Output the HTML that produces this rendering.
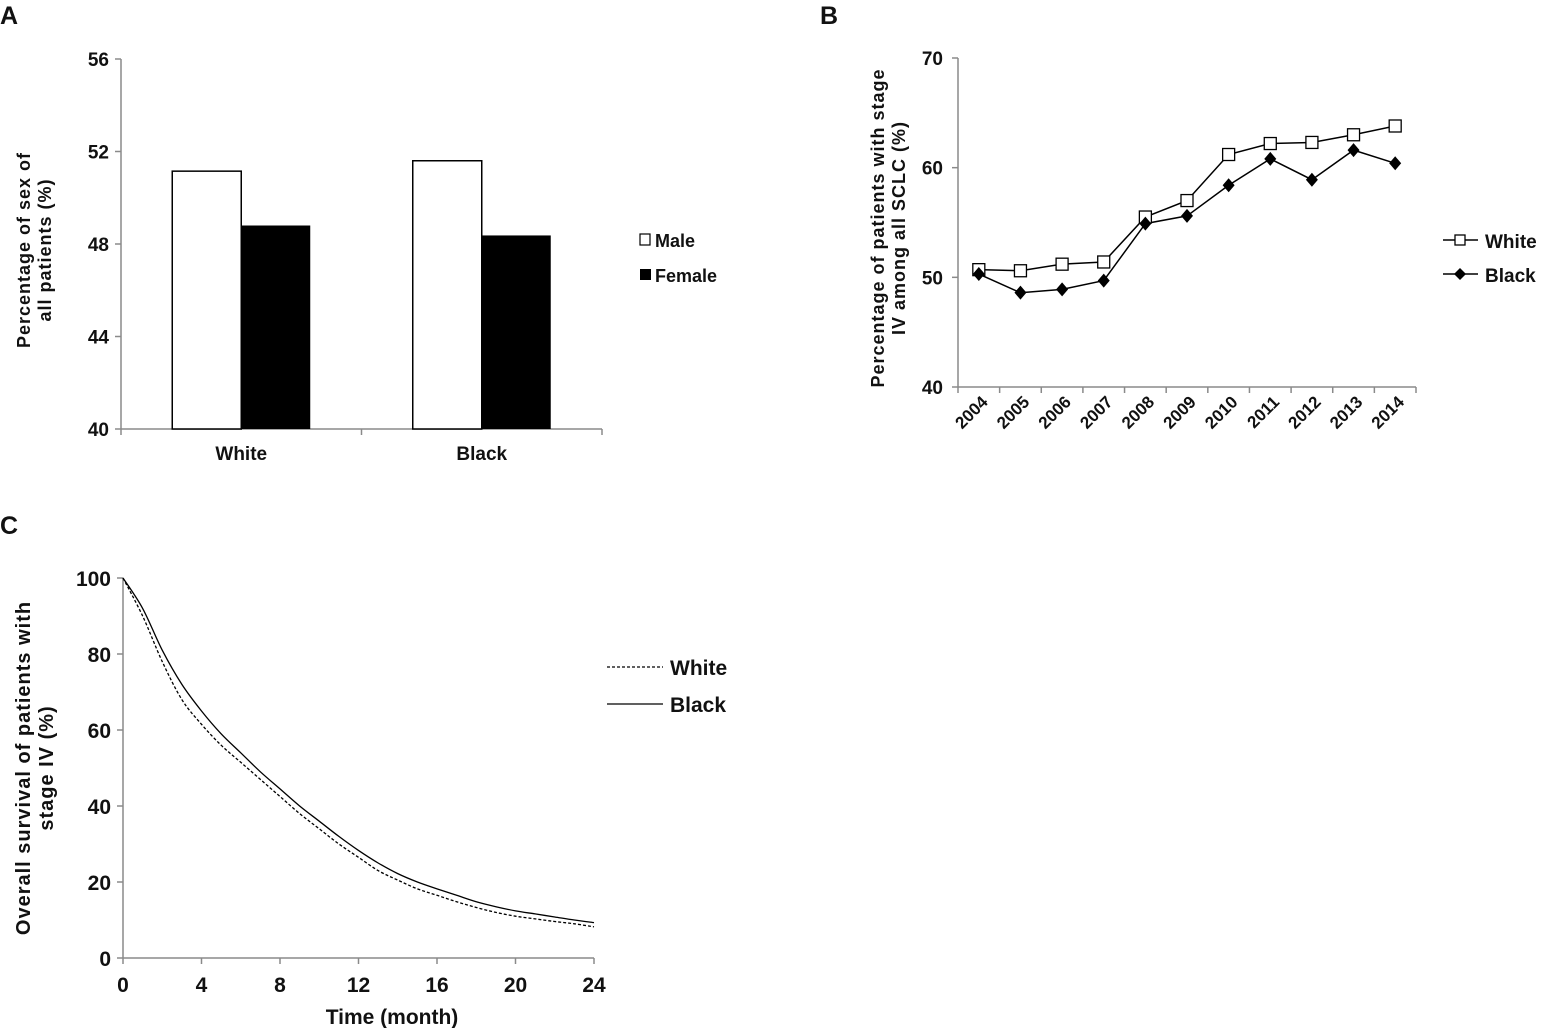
<!DOCTYPE html>
<html><head><meta charset="utf-8"><style>
html,body{margin:0;padding:0;background:#fff;}
svg{display:block;}
text{font-family:"Liberation Sans Narrow","Liberation Sans",sans-serif;font-weight:bold;fill:#111;}
.title{font-family:"Liberation Sans",sans-serif;letter-spacing:1px;}
</style></head><body>
<svg id="fig" width="1549" height="1028" viewBox="0 0 1549 1028" xmlns="http://www.w3.org/2000/svg">
<text x="0" y="24" font-size="25" class="title">A</text>
<text x="820" y="24" font-size="25" class="title">B</text>
<text x="0" y="534" font-size="25" class="title">C</text>
<g id="pa"></g>
<g id="pb"></g>
<g id="pc"></g>
</svg>
<script>
// Panel A data
const aCategories = ["White", "Black"];
const aMale = [51.15, 51.6];
const aFemale = [48.8, 48.37];
const aTicks = [40, 44, 48, 52, 56];
// Panel B data
const bYears = ["2004","2005","2006","2007","2008","2009","2010","2011","2012","2013","2014"];
const bWhite = [50.7, 50.6, 51.2, 51.4, 55.5, 57.0, 61.2, 62.2, 62.3, 63.0, 63.8];
const bBlack = [50.3, 48.6, 48.9, 49.7, 54.9, 55.6, 58.4, 60.8, 58.9, 61.6, 60.4];
const bTicks = [40, 50, 60, 70];
// Panel C data
const cMonths = [0,1,2,3,4,5,6,7,8,9,10,11,12,13,14,15,16,17,18,19,20,21,22,23,24];
const cBlack = [100,92,81,72,65,59,54,49,44.5,40,36,32,28.3,25,22.2,20,18.2,16.5,14.8,13.5,12.4,11.6,10.8,10,9.3];
const cWhite = [100,90,78,68,61.5,56,51.5,47,42.5,38,34,30,26.5,23,20.5,18.2,16.5,14.8,13.3,12,11,10.3,9.6,9,8.2];
const cYTicks = [0,20,40,60,80,100];
const cXTicks = [0,4,8,12,16,20,24];

const NS = "http://www.w3.org/2000/svg";
function mk(parent, tag, attrs, txt){
  const e = document.createElementNS(NS, tag);
  for (const k in attrs) e.setAttribute(k, attrs[k]);
  if (txt !== undefined) e.textContent = txt;
  parent.appendChild(e);
  return e;
}
const AX = "#8a8a8a";

// ---------- Panel A ----------
(function(){
  const g = document.getElementById('pa');
  const x0 = 121, x1 = 602, yTop = 59, yBot = 429, vmin = 40, vmax = 56;
  const y = v => yBot - (v - vmin) / (vmax - vmin) * (yBot - yTop);
  const band = (x1 - x0) / aCategories.length;
  const bw = 69;
  let e = mk(g,'line',{x1:x0,y1:yTop,x2:x0,y2:yBot,stroke:AX,'stroke-width':1.5});
   
  e = mk(g,'line',{x1:x0,y1:yBot,x2:x1,y2:yBot,stroke:AX,'stroke-width':1.5});
   
  aTicks.forEach(t=>{
    mk(g,'line',{x1:x0-6,y1:y(t),x2:x0,y2:y(t),stroke:AX,'stroke-width':1.5});
    const tl = mk(g,'text',{x:x0-12,y:y(t)+7,'font-size':19,'text-anchor':'end'},t);
     
  });
  for (let i=0;i<=aCategories.length;i++) mk(g,'line',{x1:x0+i*band,y1:yBot,x2:x0+i*band,y2:yBot+6,stroke:AX,'stroke-width':1.5});
  aCategories.forEach((c,i)=>{
    const cx = x0 + band*(i+0.5);
    const m = mk(g,'rect',{x:cx-bw,y:y(aMale[i]),width:bw,height:yBot-y(aMale[i]),fill:'#fff',stroke:'#000','stroke-width':1.5});
     
    const f = mk(g,'rect',{x:cx,y:y(aFemale[i]),width:bw,height:yBot-y(aFemale[i]),fill:'#000'});
     
    const l = mk(g,'text',{x:cx,y:460,'font-size':19,'text-anchor':'middle'},c);
     
  });
  const t = mk(g,'text',{transform:'translate(30,250) rotate(-90)','font-size':18,'text-anchor':'middle',class:'title'});
   
  mk(t,'tspan',{x:0,dy:0},'Percentage of sex of');
  mk(t,'tspan',{x:0,dy:21},'all patients (%)');
  mk(g,'rect',{x:640,y:234,width:10,height:11,fill:'#fff',stroke:'#000','stroke-width':1.2});
  let lt = mk(g,'text',{x:655,y:247,'font-size':18},'Male');
   
  mk(g,'rect',{x:640,y:269,width:11,height:11,fill:'#000'});
  lt = mk(g,'text',{x:655,y:282,'font-size':18},'Female');
   
})();

// ---------- Panel B ----------
(function(){
  const g = document.getElementById('pb');
  const x0 = 958, x1 = 1416, yTop = 58, yBot = 387, vmin = 40, vmax = 70;
  const y = v => yBot - (v - vmin)/(vmax - vmin)*(yBot - yTop);
  const band = (x1 - x0)/bYears.length;
  const x = i => x0 + band*(i+0.5);
  let e = mk(g,'line',{x1:x0,y1:yTop,x2:x0,y2:yBot,stroke:AX,'stroke-width':1.5});
   
  e = mk(g,'line',{x1:x0,y1:yBot,x2:x1,y2:yBot,stroke:AX,'stroke-width':1.5});
   
  bTicks.forEach(t=>{
    mk(g,'line',{x1:x0-6,y1:y(t),x2:x0,y2:y(t),stroke:AX,'stroke-width':1.5});
    const tl = mk(g,'text',{x:x0-15,y:y(t)+7,'font-size':19,'text-anchor':'end'},t);
     
  });
  for (let i=0;i<=bYears.length;i++) mk(g,'line',{x1:x0+i*band,y1:yBot,x2:x0+i*band,y2:yBot+6,stroke:AX,'stroke-width':1.5});
  bYears.forEach((yr,i)=>{
    const tl = mk(g,'text',{transform:`translate(${x(i)+10},${yBot+16}) rotate(-45)`,'font-size':17,'text-anchor':'end'},yr);
     
  });
  const lw = mk(g,'polyline',{points:bWhite.map((v,i)=>x(i)+','+y(v)).join(' '),fill:'none',stroke:'#000','stroke-width':1.5});
   
  const lb = mk(g,'polyline',{points:bBlack.map((v,i)=>x(i)+','+y(v)).join(' '),fill:'none',stroke:'#000','stroke-width':1.5});
   
  bWhite.forEach((v,i)=>{
    const m = mk(g,'rect',{x:x(i)-6,y:y(v)-6,width:12,height:12,fill:'#fff',stroke:'#000','stroke-width':1.3});
     
  });
  bBlack.forEach((v,i)=>{
    const cx=x(i), cy=y(v);
    const m = mk(g,'polygon',{points:`${cx},${cy-7} ${cx+6},${cy} ${cx},${cy+7} ${cx-6},${cy}`,fill:'#000'});
     
  });
  const t = mk(g,'text',{transform:'translate(884,228) rotate(-90)','font-size':18,'text-anchor':'middle',class:'title'});
   
  mk(t,'tspan',{x:0,dy:0},'Percentage of patients with stage');
  mk(t,'tspan',{x:0,dy:21},'IV among all SCLC (%)');
  mk(g,'line',{x1:1443,y1:240,x2:1478,y2:240,stroke:'#000','stroke-width':1.5});
  mk(g,'rect',{x:1455,y:235,width:10,height:10,fill:'#fff',stroke:'#000','stroke-width':1.3});
  let lt = mk(g,'text',{x:1485,y:248,'font-size':19},'White');
   
  mk(g,'line',{x1:1443,y1:274,x2:1478,y2:274,stroke:'#000','stroke-width':1.5});
  mk(g,'polygon',{points:'1460,268 1466,274 1460,280 1454,274',fill:'#000'});
  lt = mk(g,'text',{x:1485,y:282,'font-size':19},'Black');
   
})();

// ---------- Panel C ----------
(function(){
  const g = document.getElementById('pc');
  const x0 = 123, x1 = 594, yTop = 578, yBot = 958;
  const x = m => x0 + m/24*(x1-x0);
  const y = v => yBot - v/100*(yBot-yTop);
  let e = mk(g,'line',{x1:x0,y1:yTop,x2:x0,y2:yBot,stroke:AX,'stroke-width':1.5});
   
  e = mk(g,'line',{x1:x0,y1:yBot,x2:x1,y2:yBot,stroke:AX,'stroke-width':1.5});
   
  cYTicks.forEach(t=>{
    mk(g,'line',{x1:x0-6,y1:y(t),x2:x0,y2:y(t),stroke:AX,'stroke-width':1.5});
    const tl = mk(g,'text',{x:x0-12,y:y(t)+8,'font-size':21,'text-anchor':'end'},t);
     
  });
  cXTicks.forEach(t=>{
    mk(g,'line',{x1:x(t),y1:yBot,x2:x(t),y2:yBot+6,stroke:AX,'stroke-width':1.5});
    const tl = mk(g,'text',{x:x(t),y:992,'font-size':21,'text-anchor':'middle'},t);
     
  });
  function smooth(vals){
    const p = vals.map((v,i)=>[x(cMonths[i]),y(v)]);
    let d = `M${p[0][0]},${p[0][1]}`;
    for (let i=0;i<p.length-1;i++){
      const a=p[Math.max(i-1,0)], b=p[i], c=p[i+1], dd=p[Math.min(i+2,p.length-1)];
      d += ` C${b[0]+(c[0]-a[0])/6},${b[1]+(c[1]-a[1])/6} ${c[0]-(dd[0]-b[0])/6},${c[1]-(dd[1]-b[1])/6} ${c[0]},${c[1]}`;
    }
    return d;
  }
  const w = mk(g,'path',{d:smooth(cWhite),fill:'none',stroke:'#000','stroke-width':1.3,'stroke-dasharray':'3,2'});
   
  const b = mk(g,'path',{d:smooth(cBlack),fill:'none',stroke:'#000','stroke-width':1.3});
   
  const xt = mk(g,'text',{x:392,y:1024,'font-size':21,'text-anchor':'middle'},'Time (month)');
   
  const t = mk(g,'text',{transform:'translate(30,768) rotate(-90)','font-size':20,'text-anchor':'middle',class:'title'});
   
  mk(t,'tspan',{x:0,dy:0},'Overall survival of patients with');
  mk(t,'tspan',{x:0,dy:23},'stage IV (%)');
  mk(g,'line',{x1:607,y1:667,x2:663,y2:667,stroke:'#000','stroke-width':1.3,'stroke-dasharray':'3,2'});
  let lt = mk(g,'text',{x:670,y:675,'font-size':21},'White');
   
  mk(g,'line',{x1:607,y1:704,x2:663,y2:704,stroke:'#000','stroke-width':1.3});
  lt = mk(g,'text',{x:670,y:712,'font-size':21},'Black');
   
})();
</script>
</body></html>
